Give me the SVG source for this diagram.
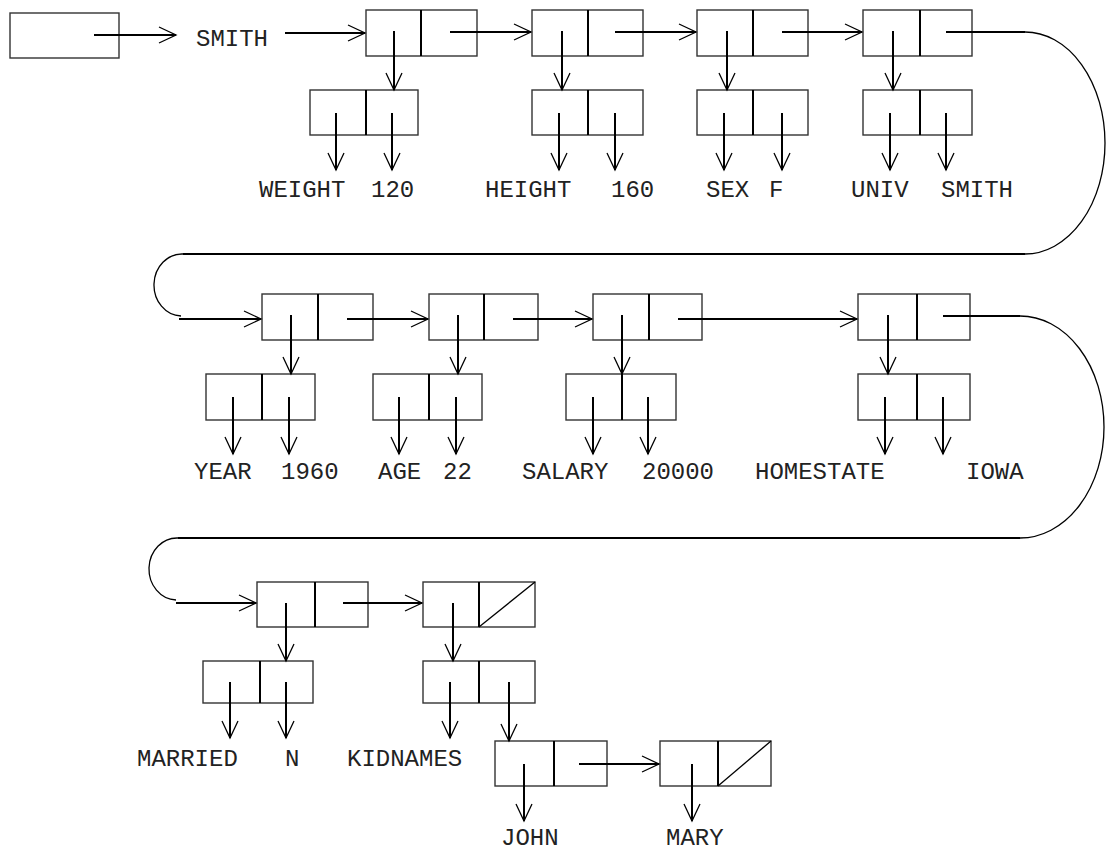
<svg xmlns="http://www.w3.org/2000/svg" width="1106" height="851" viewBox="0 0 1106 851">
<defs>
<marker id="ah" markerUnits="userSpaceOnUse" markerWidth="24" markerHeight="24" viewBox="-20 -12 24 24" refX="0" refY="0" orient="auto">
<path d="M-17,-8 L0,0 L-17,8" fill="none" stroke="#000" stroke-width="1.3"/>
</marker>
</defs>
<style>
.box{fill:#fff;stroke:#333;stroke-width:1.4}
.div{stroke:#000;stroke-width:2}
.sl{stroke:#000;stroke-width:1.3}
.ar{fill:none;stroke:#000;stroke-width:2;marker-end:url(#ah)}
.ln{fill:none;stroke:#000;stroke-width:2}
.arc{fill:none;stroke:#000;stroke-width:1.3}
text{font-family:"Courier New","Nimbus Mono PS","Nimbus Mono L","FreeMono","Liberation Mono",monospace;font-size:24px;fill:#222}
</style>
<rect width="1106" height="851" fill="#fff"/>
<g id="head"><rect class="box" x="10" y="13" width="109" height="45"/></g>
<g id="n1"><rect class="box" x="366" y="10" width="111" height="46"/><line class="div" x1="421" y1="10" x2="421" y2="56"/></g>
<g id="n2"><rect class="box" x="532" y="10" width="111" height="46"/><line class="div" x1="588" y1="10" x2="588" y2="56"/></g>
<g id="n3"><rect class="box" x="697" y="10" width="111" height="46"/><line class="div" x1="753" y1="10" x2="753" y2="56"/></g>
<g id="n4"><rect class="box" x="863" y="10" width="109" height="46"/><line class="div" x1="920" y1="10" x2="920" y2="56"/></g>
<g id="s1"><rect class="box" x="310" y="90" width="108" height="45"/><line class="div" x1="366" y1="90" x2="366" y2="135"/></g>
<g id="s2"><rect class="box" x="532" y="90" width="111" height="45"/><line class="div" x1="588" y1="90" x2="588" y2="135"/></g>
<g id="s3"><rect class="box" x="697" y="90" width="111" height="45"/><line class="div" x1="753" y1="90" x2="753" y2="135"/></g>
<g id="s4"><rect class="box" x="863" y="90" width="109" height="45"/><line class="div" x1="920" y1="90" x2="920" y2="135"/></g>
<g id="n5"><rect class="box" x="262" y="294" width="111" height="46"/><line class="div" x1="318" y1="294" x2="318" y2="340"/></g>
<g id="n6"><rect class="box" x="429" y="294" width="109" height="46"/><line class="div" x1="484" y1="294" x2="484" y2="340"/></g>
<g id="n7"><rect class="box" x="593" y="294" width="109" height="46"/><line class="div" x1="649" y1="294" x2="649" y2="340"/></g>
<g id="n8"><rect class="box" x="858" y="294" width="112" height="46"/><line class="div" x1="917" y1="294" x2="917" y2="340"/></g>
<g id="s5"><rect class="box" x="206" y="374" width="109" height="46"/><line class="div" x1="262" y1="374" x2="262" y2="420"/></g>
<g id="s6"><rect class="box" x="373" y="374" width="109" height="46"/><line class="div" x1="429" y1="374" x2="429" y2="420"/></g>
<g id="s7"><rect class="box" x="566" y="374" width="110" height="46"/><line class="div" x1="622" y1="374" x2="622" y2="420"/></g>
<g id="s8"><rect class="box" x="858" y="374" width="112" height="46"/><line class="div" x1="917" y1="374" x2="917" y2="420"/></g>
<g id="n9"><rect class="box" x="257" y="582" width="111" height="45"/><line class="div" x1="315" y1="582" x2="315" y2="627"/></g>
<g id="n10"><rect class="box" x="423" y="582" width="112" height="45"/><line class="div" x1="479" y1="582" x2="479" y2="627"/><line class="sl" x1="479" y1="627" x2="535" y2="582"/></g>
<g id="s9"><rect class="box" x="203" y="661" width="110" height="42"/><line class="div" x1="260" y1="661" x2="260" y2="703"/></g>
<g id="s10"><rect class="box" x="423" y="661" width="112" height="42"/><line class="div" x1="479" y1="661" x2="479" y2="703"/></g>
<g id="john"><rect class="box" x="495" y="741" width="112" height="45"/><line class="div" x1="554" y1="741" x2="554" y2="786"/></g>
<g id="mary"><rect class="box" x="660" y="741" width="111" height="45"/><line class="div" x1="718" y1="741" x2="718" y2="786"/><line class="sl" x1="718" y1="786" x2="771" y2="741"/></g>
<g id="labels">
<text x="196" y="46">SMITH</text>
<text x="259" y="197">WEIGHT</text>
<text x="371" y="197">120</text>
<text x="485" y="197">HEIGHT</text>
<text x="611" y="197">160</text>
<text x="706" y="197">SEX</text>
<text x="769" y="197">F</text>
<text x="851" y="197">UNIV</text>
<text x="941" y="197">SMITH</text>
<text x="194" y="479">YEAR</text>
<text x="281" y="479">1960</text>
<text x="378" y="479">AGE</text>
<text x="443" y="479">22</text>
<text x="522" y="479">SALARY</text>
<text x="642" y="479">20000</text>
<text x="755" y="479">HOMESTATE</text>
<text x="966" y="479">IOWA</text>
<text x="137" y="766">MARRIED</text>
<text x="285" y="766">N</text>
<text x="347" y="766">KIDNAMES</text>
<text x="501" y="845">JOHN</text>
<text x="666" y="845">MARY</text>
</g>
<g id="connectors">
<line class="ar" x1="94" y1="35" x2="176" y2="35"/>
<line class="ar" x1="285" y1="33" x2="365" y2="33"/>
<line class="ar" x1="450" y1="32" x2="531" y2="32"/>
<line class="ar" x1="615" y1="32" x2="696" y2="32"/>
<line class="ar" x1="782" y1="32" x2="862" y2="32"/>
<line class="ar" x1="394" y1="31" x2="394" y2="90"/>
<line class="ar" x1="562" y1="31" x2="562" y2="90"/>
<line class="ar" x1="727" y1="31" x2="727" y2="90"/>
<line class="ar" x1="893" y1="31" x2="893" y2="90"/>
<line class="ar" x1="336" y1="113" x2="336" y2="170"/>
<line class="ar" x1="392" y1="113" x2="392" y2="170"/>
<line class="ar" x1="559" y1="113" x2="559" y2="170"/>
<line class="ar" x1="615" y1="113" x2="615" y2="170"/>
<line class="ar" x1="724" y1="113" x2="724" y2="170"/>
<line class="ar" x1="782" y1="113" x2="782" y2="170"/>
<line class="ar" x1="890" y1="113" x2="890" y2="170"/>
<line class="ar" x1="946" y1="113" x2="946" y2="170"/>
<line class="ln" x1="946" y1="32" x2="1025" y2="32"/>
<path class="arc" d="M1025,32 A80,111 0 0 1 1025,254"/>
<line class="ln" x1="1025" y1="254" x2="183" y2="254"/>
<path class="arc" d="M183,254 A28,31 0 0 0 181,316"/>
<line class="ar" x1="179" y1="319" x2="261" y2="319"/>
<line class="ar" x1="347" y1="319" x2="428" y2="319"/>
<line class="ar" x1="513" y1="319" x2="592" y2="319"/>
<line class="ar" x1="678" y1="319" x2="857" y2="319"/>
<line class="ar" x1="291" y1="315" x2="291" y2="374"/>
<line class="ar" x1="458" y1="315" x2="458" y2="374"/>
<line class="ar" x1="622" y1="315" x2="622" y2="374"/>
<line class="ar" x1="888" y1="315" x2="888" y2="374"/>
<line class="ar" x1="233" y1="397" x2="233" y2="454"/>
<line class="ar" x1="289" y1="397" x2="289" y2="454"/>
<line class="ar" x1="399" y1="397" x2="399" y2="454"/>
<line class="ar" x1="456" y1="397" x2="456" y2="454"/>
<line class="ar" x1="593" y1="397" x2="593" y2="454"/>
<line class="ar" x1="648" y1="397" x2="648" y2="454"/>
<line class="ar" x1="885" y1="397" x2="885" y2="454"/>
<line class="ar" x1="943" y1="397" x2="943" y2="454"/>
<line class="ln" x1="943" y1="316" x2="1020" y2="316"/>
<path class="arc" d="M1020,316 A84,111 0 0 1 1020,538"/>
<line class="ln" x1="1020" y1="538" x2="178" y2="538"/>
<path class="arc" d="M178,538 A28,31 0 0 0 176,600"/>
<line class="ar" x1="176" y1="603" x2="256" y2="603"/>
<line class="ar" x1="343" y1="603" x2="422" y2="603"/>
<line class="ar" x1="286" y1="603" x2="286" y2="661"/>
<line class="ar" x1="453" y1="603" x2="453" y2="661"/>
<line class="ar" x1="230" y1="682" x2="230" y2="738"/>
<line class="ar" x1="286" y1="682" x2="286" y2="738"/>
<line class="ar" x1="450" y1="682" x2="450" y2="738"/>
<line class="ar" x1="509" y1="682" x2="509" y2="741"/>
<line class="ar" x1="579" y1="764" x2="659" y2="764"/>
<line class="ar" x1="524" y1="764" x2="524" y2="821"/>
<line class="ar" x1="692" y1="764" x2="692" y2="821"/>
</g>
</svg>
